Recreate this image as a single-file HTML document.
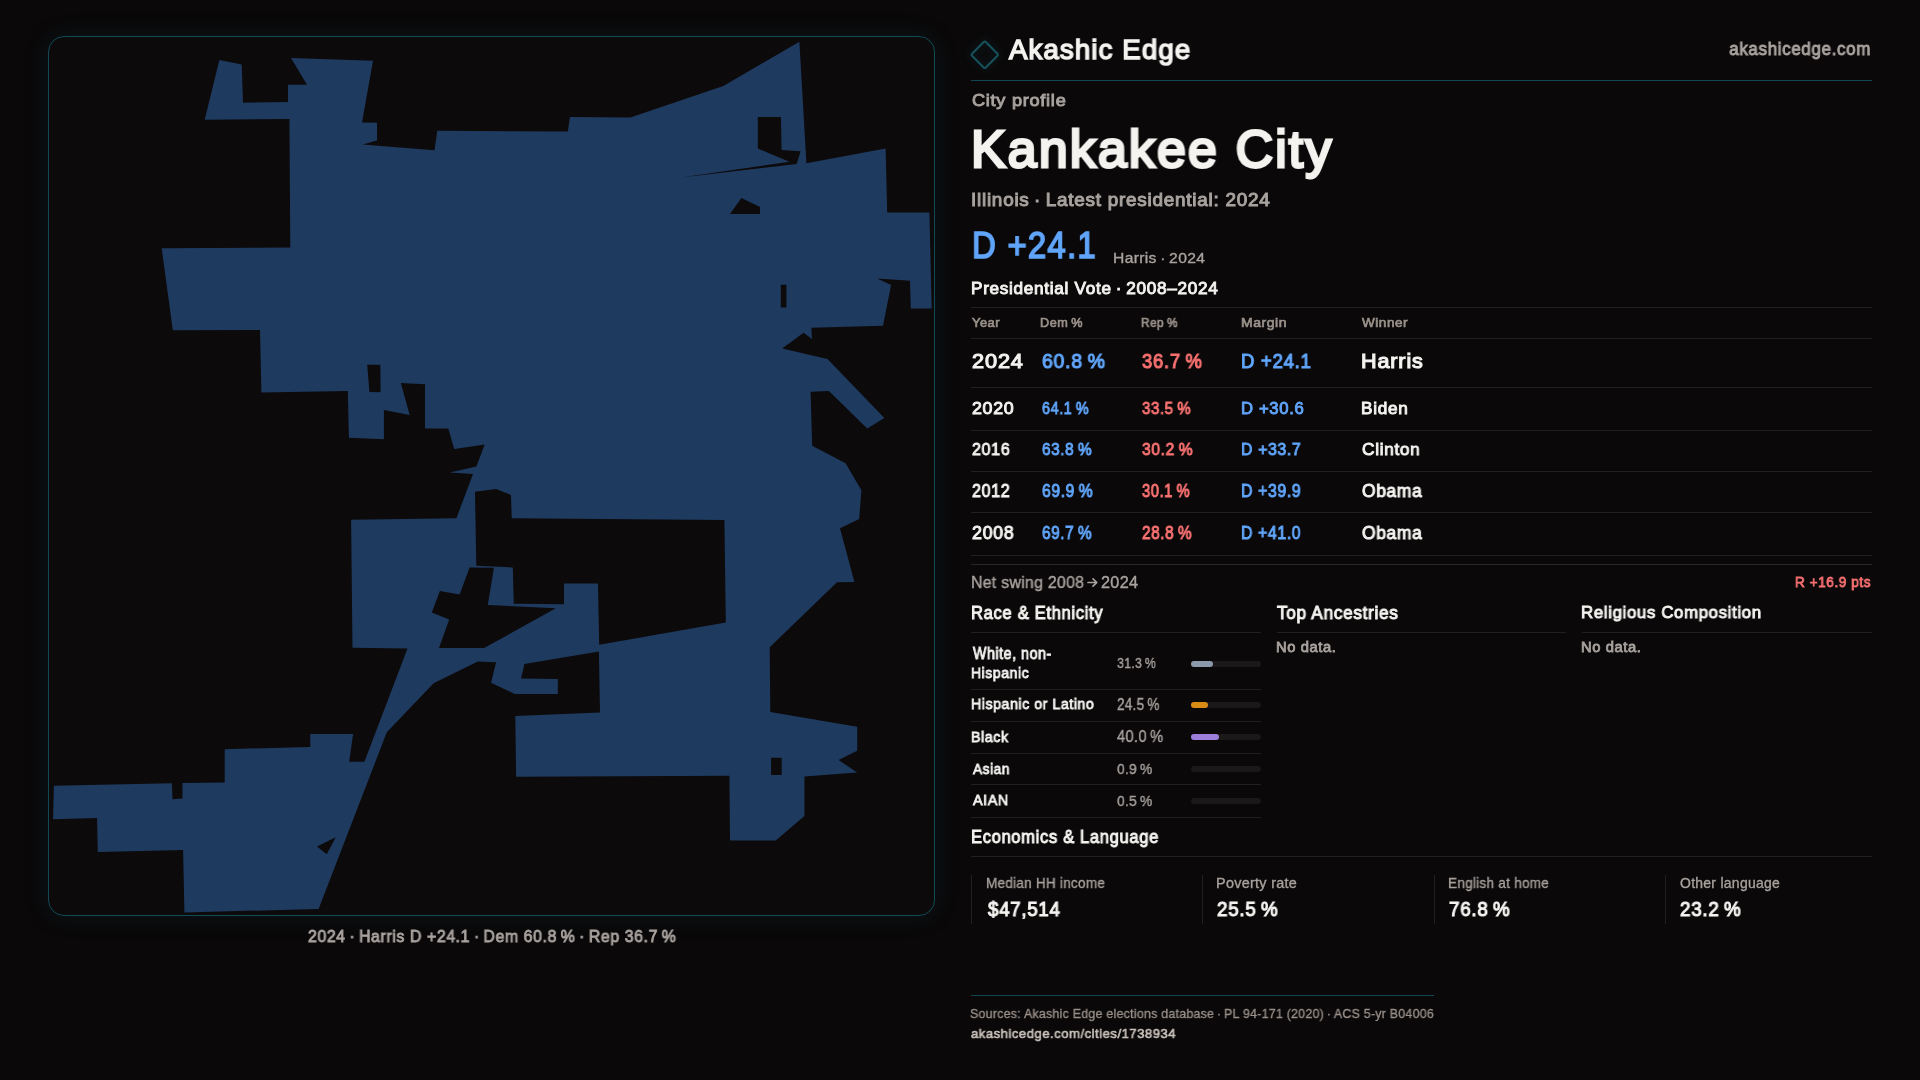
<!DOCTYPE html>
<html><head><meta charset="utf-8">
<style>
*{margin:0;padding:0;box-sizing:border-box}
html,body{width:1920px;height:1080px;overflow:hidden;background:#0a0809;font-family:"Liberation Sans",sans-serif;}
.t{position:absolute;white-space:nowrap;line-height:1;transform-origin:0 0;font-weight:400;will-change:transform;}
#frame{position:absolute;left:48px;top:36px;width:887px;height:880px;border:1px solid #114a55;border-radius:16px;background:#0c0a0b;box-shadow:0 0 24px rgba(20,90,105,0.18);}
#map{position:absolute;left:0;top:0;}
.hr{position:absolute;height:1px;background:#221f1e;}
.vr{position:absolute;width:1px;background:#221f1e;}
.trk{position:absolute;left:1191px;width:70px;height:6px;border-radius:3px;background:#1a1818;}
.fil{position:absolute;left:0;top:0;height:6px;border-radius:3px;}
</style></head><body>
<div id="frame"></div>
<svg id="map" width="1920" height="1080" viewBox="0 0 1920 1080"><path fill="#1f3a5f" fill-rule="evenodd" d="M219.4 60 L241.7 64.4 L243 102.8 L288 102 L288 84.7 L307 84.7 L291 58 L373 60.8 L362 122.5 L377 122.8 L377 140.6 L362.5 144.4 L434.5 150.3 L437.3 130.8 L567.8 131.4 L570 117 L630.3 117.5 L723.3 86.1 L799.4 41.7 L806.4 163.3 L885.6 148.6 L887.2 212.5 L929.4 212.5 L931.7 308.6 L910.8 308.6 L910 280.8 L877.2 278.6 L891.1 285 L883 325.7 L811.4 327.8 L812 338.9 L803.6 332.8 L782.2 348.6 L827.5 358.9 L884.4 418 L867.2 428.6 L828.9 391.1 L810.6 391.7 L812.2 445.8 L845.6 463.3 L861.4 490.3 L859.2 518.9 L840 528.3 L854.4 582 L837 582.3 L769.7 647.2 L770.3 711.9 L857.2 726.7 L857.2 750.8 L838.6 760 L857.2 772.5 L804.4 776.4 L804.4 816.1 L775.8 840.6 L730 840.6 L729.4 775.8 L516.1 776.7 L515.3 716.1 L600 712.5 L598.9 651.4 L524.4 663.9 L521.1 678.6 L557.8 678.9 L557.8 693.9 L514.7 693.9 L491.1 682.8 L496.1 662.2 L477.8 661.4 L433.6 683.3 L386.8 732.3 L318.6 908.9 L184.4 912.5 L183.1 850 L97.8 851.9 L97 818.1 L53.1 819.2 L53.9 785.8 L171.9 783.3 L172.5 799.2 L182.5 798.6 L182.5 783.1 L224.7 782.5 L224.7 749.2 L310.3 746.9 L310.3 733.9 L353.1 733.9 L349.2 761.7 L364.4 761.7 L407.5 648.6 L352.5 647.8 L351.1 519.7 L456.4 518.3 L473 473.9 L449.7 472.5 L476.4 466.4 L484.7 444.4 L454.2 448.9 L448.3 428.6 L425 428.6 L425 384.2 L400.8 383 L409.7 415 L383.9 410 L383.9 439.2 L348.9 437.8 L347.8 391.1 L261.4 392.5 L260 330 L172.8 330.3 L161.7 248.3 L290.3 247.5 L289.4 118.9 L204.7 119.7 Z M757.8 117.1 L780.9 117.1 L781.6 150 L800.6 151.2 L796.7 163.9 L681 177.5 L789.4 161.8 L757.8 148.6 Z M741.4 198 L760 207 L760 213.9 L730 213.9 Z M780.8 284.7 L786.4 284.7 L786.4 307.5 L780.8 307.5 Z M367.2 364.7 L380.3 364.7 L380.6 392.2 L369.4 391.9 Z M475 491.7 L496 489 L511 495 L511.7 518.3 L724.4 520 L725.8 622.5 L599.2 644.7 L598 583.6 L564 583.6 L564 604.2 L513.75 603.75 L512.8 567.4 L476.3 565.7 Z M469.6 567.4 L493.9 567.8 L487.8 604.9 L555.8 608.3 L484.2 647.9 L439 647.9 L449.2 619.4 L431.8 612.5 L439.9 591 L459.6 594.4 Z M771.1 757.8 L781.7 757.8 L781.7 775 L771.1 775 Z M317 846.4 L335.8 837.2 L326.7 854.2 Z"/></svg>
<svg style="position:absolute;left:965px;top:35px;filter:drop-shadow(0 0 5px rgba(22,95,110,0.45))" width="40" height="40" viewBox="0 0 40 40"><rect x="10" y="10" width="19.5" height="19.5" rx="1.5" transform="rotate(45 19.75 19.75)" fill="none" stroke="#17525c" stroke-width="2"/></svg>
<div class="hr" style="left:971px;top:80px;width:901px;background:#0f4652"></div>
<div class="hr" style="left:971px;top:307px;width:901px"></div>
<div class="hr" style="left:971px;top:338px;width:901px"></div>
<div class="hr" style="left:971px;top:387px;width:901px"></div>
<div class="hr" style="left:971px;top:430px;width:901px"></div>
<div class="hr" style="left:971px;top:471px;width:901px"></div>
<div class="hr" style="left:971px;top:512px;width:901px"></div>
<div class="hr" style="left:971px;top:555px;width:901px"></div>
<div class="hr" style="left:971px;top:564px;width:901px;background:#2a2625"></div>
<div class="hr" style="left:971px;top:632px;width:290px"></div>
<div class="hr" style="left:1277px;top:632px;width:289px"></div>
<div class="hr" style="left:1582px;top:632px;width:290px"></div>
<div class="hr" style="left:971px;top:689px;width:290px"></div>
<div class="hr" style="left:971px;top:721px;width:290px"></div>
<div class="hr" style="left:971px;top:753px;width:290px"></div>
<div class="hr" style="left:971px;top:784px;width:290px"></div>
<div class="hr" style="left:971px;top:817px;width:290px"></div>
<div class="hr" style="left:971px;top:856px;width:901px"></div>
<div class="trk" style="top:661px"><div class="fil" style="width:22px;background:#8a9aab"></div></div>
<div class="trk" style="top:702px"><div class="fil" style="width:17px;background:#d98c14"></div></div>
<div class="trk" style="top:734px"><div class="fil" style="width:28px;background:#9a7ed9"></div></div>
<div class="trk" style="top:766px"></div>
<div class="trk" style="top:798px"></div>
<div class="vr" style="left:971px;top:875px;height:49px"></div>
<div class="vr" style="left:1202px;top:875px;height:49px"></div>
<div class="vr" style="left:1434px;top:875px;height:49px"></div>
<div class="vr" style="left:1665px;top:875px;height:49px"></div>
<div class="hr" style="left:971px;top:995px;width:463px;background:#0f4652"></div>
<svg style="position:absolute;left:1087px;top:577px" width="12" height="11" viewBox="0 0 12 11"><path d="M1 5.5 H9.5 M6 1.8 L9.8 5.5 L6 9.2" fill="none" stroke="#a8a29e" stroke-width="1.7" stroke-linecap="round" stroke-linejoin="round"/></svg>
<div class="t" style="left:1009.40px;transform:scaleX(0.9973);top:35.83px;font-size:27.71px;color:#f5f3f0;-webkit-text-stroke:1.52px #f5f3f0;letter-spacing:1.11px;">Akashic Edge</div>
<div class="t" style="left:1871.00px;transform:scaleX(0.9448) translateX(-100%);top:41.08px;font-size:17.90px;color:#a8a29e;-webkit-text-stroke:0.98px #a8a29e;letter-spacing:0.72px;">akashicedge.com</div>
<div class="t" style="left:971.80px;transform:scaleX(1.0972);top:93.05px;font-size:16.56px;color:#a8a29e;-webkit-text-stroke:0.91px #a8a29e;letter-spacing:0.66px;">City profile</div>
<div class="t" style="left:971.40px;transform:scaleX(0.9972);top:122.70px;font-size:52.15px;color:#f5f3f0;-webkit-text-stroke:2.87px #f5f3f0;letter-spacing:2.09px;">Kankakee City</div>
<div class="t" style="left:971.20px;transform:scaleX(1.0664);top:192.33px;font-size:17.73px;color:#a8a29e;-webkit-text-stroke:0.98px #a8a29e;letter-spacing:0.71px;">Illinois · Latest presidential: 2024</div>
<div class="t" style="left:971.60px;transform:scaleX(0.8765);top:226.91px;font-size:37.45px;color:#60a5fa;-webkit-text-stroke:1.69px #60a5fa;letter-spacing:1.50px;">D +24.1</div>
<div class="t" style="left:1112.60px;transform:scaleX(1.0619);top:250.84px;font-size:14.76px;color:#a8a29e;-webkit-text-stroke:0.37px #a8a29e;letter-spacing:0.30px;">Harris · 2024</div>
<div class="t" style="left:971.00px;transform:scaleX(1.0633);top:280.29px;font-size:16.17px;color:#f5f3f0;-webkit-text-stroke:0.89px #f5f3f0;letter-spacing:0.65px;">Presidential Vote · 2008–2024</div>
<div class="t" style="left:972.00px;transform:scaleX(1.0380);top:316.99px;font-size:12.39px;color:#9a918a;-webkit-text-stroke:0.68px #9a918a;letter-spacing:0.50px;">Year</div>
<div class="t" style="left:1040.00px;transform:scaleX(1.0217);top:316.99px;font-size:12.39px;color:#9a918a;-webkit-text-stroke:0.68px #9a918a;letter-spacing:0.50px;">Dem %</div>
<div class="t" style="left:1141.00px;transform:scaleX(0.9553);top:316.99px;font-size:12.39px;color:#9a918a;-webkit-text-stroke:0.68px #9a918a;letter-spacing:0.50px;">Rep %</div>
<div class="t" style="left:1241.00px;transform:scaleX(1.1299);top:316.99px;font-size:12.39px;color:#9a918a;-webkit-text-stroke:0.68px #9a918a;letter-spacing:0.50px;">Margin</div>
<div class="t" style="left:1362.00px;transform:scaleX(1.0921);top:316.99px;font-size:12.39px;color:#9a918a;-webkit-text-stroke:0.68px #9a918a;letter-spacing:0.50px;">Winner</div>
<div class="t" style="left:972.00px;transform:scaleX(1.0749);top:351.12px;font-size:20.21px;color:#f5f3f0;-webkit-text-stroke:1.11px #f5f3f0;letter-spacing:0.81px;">2024</div>
<div class="t" style="left:1042.00px;transform:scaleX(0.9610);top:351.12px;font-size:20.21px;color:#60a5fa;-webkit-text-stroke:1.11px #60a5fa;letter-spacing:0.81px;">60.8 %</div>
<div class="t" style="left:1142.00px;transform:scaleX(0.9145);top:351.12px;font-size:20.21px;color:#f87171;-webkit-text-stroke:1.11px #f87171;letter-spacing:0.81px;">36.7 %</div>
<div class="t" style="left:1241.00px;transform:scaleX(0.9161);top:351.12px;font-size:20.21px;color:#60a5fa;-webkit-text-stroke:1.11px #60a5fa;letter-spacing:0.81px;">D +24.1</div>
<div class="t" style="left:1361.00px;transform:scaleX(1.0687);top:351.12px;font-size:20.21px;color:#f5f3f0;-webkit-text-stroke:1.11px #f5f3f0;letter-spacing:0.81px;">Harris</div>
<div class="t" style="left:972.00px;transform:scaleX(1.0932);top:400.28px;font-size:16.30px;color:#f5f3f0;-webkit-text-stroke:0.90px #f5f3f0;letter-spacing:0.65px;">2020</div>
<div class="t" style="left:1042.00px;transform:scaleX(0.8852);top:400.28px;font-size:16.30px;color:#60a5fa;-webkit-text-stroke:0.90px #60a5fa;letter-spacing:0.65px;">64.1 %</div>
<div class="t" style="left:1142.00px;transform:scaleX(0.9236);top:400.28px;font-size:16.30px;color:#f87171;-webkit-text-stroke:0.90px #f87171;letter-spacing:0.65px;">33.5 %</div>
<div class="t" style="left:1241.00px;transform:scaleX(1.0210);top:400.28px;font-size:16.30px;color:#60a5fa;-webkit-text-stroke:0.90px #60a5fa;letter-spacing:0.65px;">D +30.6</div>
<div class="t" style="left:1361.00px;transform:scaleX(1.0552);top:400.28px;font-size:16.30px;color:#f5f3f0;-webkit-text-stroke:0.90px #f5f3f0;letter-spacing:0.65px;">Biden</div>
<div class="t" style="left:972.00px;transform:scaleX(0.9302);top:440.68px;font-size:17.28px;color:#f5f3f0;-webkit-text-stroke:0.95px #f5f3f0;letter-spacing:0.69px;">2016</div>
<div class="t" style="left:1042.00px;transform:scaleX(0.8884);top:440.68px;font-size:17.28px;color:#60a5fa;-webkit-text-stroke:0.95px #60a5fa;letter-spacing:0.69px;">63.8 %</div>
<div class="t" style="left:1142.00px;transform:scaleX(0.9066);top:440.68px;font-size:17.28px;color:#f87171;-webkit-text-stroke:0.95px #f87171;letter-spacing:0.69px;">30.2 %</div>
<div class="t" style="left:1241.00px;transform:scaleX(0.9160);top:440.68px;font-size:17.28px;color:#60a5fa;-webkit-text-stroke:0.95px #60a5fa;letter-spacing:0.69px;">D +33.7</div>
<div class="t" style="left:1362.00px;transform:scaleX(0.9966);top:440.68px;font-size:17.28px;color:#f5f3f0;-webkit-text-stroke:0.95px #f5f3f0;letter-spacing:0.69px;">Clinton</div>
<div class="t" style="left:972.00px;transform:scaleX(0.9129);top:482.64px;font-size:17.60px;color:#f5f3f0;-webkit-text-stroke:0.97px #f5f3f0;letter-spacing:0.70px;">2012</div>
<div class="t" style="left:1042.00px;transform:scaleX(0.8898);top:482.64px;font-size:17.60px;color:#60a5fa;-webkit-text-stroke:0.97px #60a5fa;letter-spacing:0.70px;">69.9 %</div>
<div class="t" style="left:1142.00px;transform:scaleX(0.8368);top:482.64px;font-size:17.60px;color:#f87171;-webkit-text-stroke:0.97px #f87171;letter-spacing:0.70px;">30.1 %</div>
<div class="t" style="left:1241.00px;transform:scaleX(0.8994);top:482.64px;font-size:17.60px;color:#60a5fa;-webkit-text-stroke:0.97px #60a5fa;letter-spacing:0.70px;">D +39.9</div>
<div class="t" style="left:1362.00px;transform:scaleX(0.9873);top:482.64px;font-size:17.60px;color:#f5f3f0;-webkit-text-stroke:0.97px #f5f3f0;letter-spacing:0.70px;">Obama</div>
<div class="t" style="left:972.00px;transform:scaleX(0.9929);top:525.16px;font-size:17.93px;color:#f5f3f0;-webkit-text-stroke:0.99px #f5f3f0;letter-spacing:0.72px;">2008</div>
<div class="t" style="left:1042.00px;transform:scaleX(0.8555);top:525.16px;font-size:17.93px;color:#60a5fa;-webkit-text-stroke:0.99px #60a5fa;letter-spacing:0.72px;">69.7 %</div>
<div class="t" style="left:1142.00px;transform:scaleX(0.8553);top:525.16px;font-size:17.93px;color:#f87171;-webkit-text-stroke:0.99px #f87171;letter-spacing:0.72px;">28.8 %</div>
<div class="t" style="left:1241.00px;transform:scaleX(0.8823);top:525.16px;font-size:17.93px;color:#60a5fa;-webkit-text-stroke:0.99px #60a5fa;letter-spacing:0.72px;">D +41.0</div>
<div class="t" style="left:1362.00px;transform:scaleX(0.9688);top:525.16px;font-size:17.93px;color:#f5f3f0;-webkit-text-stroke:0.99px #f5f3f0;letter-spacing:0.72px;">Obama</div>
<div class="t" style="left:971.00px;transform:scaleX(0.9759);top:574.10px;font-size:16.21px;color:#a8a29e;-webkit-text-stroke:0.41px #a8a29e;letter-spacing:0.32px;">Net swing 2008</div>
<div class="t" style="left:1101.00px;transform:scaleX(1.0010);top:574.10px;font-size:16.21px;color:#a8a29e;-webkit-text-stroke:0.41px #a8a29e;letter-spacing:0.32px;">2024</div>
<div class="t" style="left:1871.40px;transform:scaleX(0.8938) translateX(-100%);top:574.49px;font-size:15.25px;color:#f87171;-webkit-text-stroke:0.84px #f87171;letter-spacing:0.61px;">R +16.9 pts</div>
<div class="t" style="left:970.60px;transform:scaleX(0.9165);top:604.19px;font-size:18.12px;color:#f5f3f0;-webkit-text-stroke:1.00px #f5f3f0;letter-spacing:0.72px;">Race & Ethnicity</div>
<div class="t" style="left:1277.40px;transform:scaleX(0.9510);top:604.19px;font-size:18.12px;color:#f5f3f0;-webkit-text-stroke:1.00px #f5f3f0;letter-spacing:0.72px;">Top Ancestries</div>
<div class="t" style="left:1580.80px;transform:scaleX(0.9888);top:604.91px;font-size:16.95px;color:#f5f3f0;-webkit-text-stroke:0.93px #f5f3f0;letter-spacing:0.68px;">Religious Composition</div>
<div class="t" style="left:1276.40px;transform:scaleX(1.0179);top:640.37px;font-size:14.47px;color:#a8a29e;-webkit-text-stroke:0.80px #a8a29e;letter-spacing:0.58px;">No data.</div>
<div class="t" style="left:1580.80px;transform:scaleX(1.0179);top:640.37px;font-size:14.47px;color:#a8a29e;-webkit-text-stroke:0.80px #a8a29e;letter-spacing:0.58px;">No data.</div>
<div class="t" style="left:972.60px;transform:scaleX(0.9064);top:646.15px;font-size:15.65px;color:#f5f3f0;-webkit-text-stroke:0.86px #f5f3f0;letter-spacing:0.63px;">White, non-</div>
<div class="t" style="left:970.60px;transform:scaleX(0.9172);top:665.19px;font-size:15.25px;color:#f5f3f0;-webkit-text-stroke:0.84px #f5f3f0;letter-spacing:0.61px;">Hispanic</div>
<div class="t" style="left:1116.80px;transform:scaleX(0.8003);top:654.85px;font-size:15.45px;color:#a8a29e;-webkit-text-stroke:0.39px #a8a29e;letter-spacing:0.31px;">31.3 %</div>
<div class="t" style="left:970.60px;transform:scaleX(0.9519);top:697.33px;font-size:14.86px;color:#f5f3f0;-webkit-text-stroke:0.82px #f5f3f0;letter-spacing:0.59px;">Hispanic or Latino</div>
<div class="t" style="left:1116.80px;transform:scaleX(0.8613);top:696.82px;font-size:15.72px;color:#a8a29e;-webkit-text-stroke:0.39px #a8a29e;letter-spacing:0.31px;">24.5 %</div>
<div class="t" style="left:970.60px;transform:scaleX(0.9358);top:728.99px;font-size:15.25px;color:#f5f3f0;-webkit-text-stroke:0.84px #f5f3f0;letter-spacing:0.61px;">Black</div>
<div class="t" style="left:1116.80px;transform:scaleX(0.9117);top:728.46px;font-size:16.14px;color:#a8a29e;-webkit-text-stroke:0.40px #a8a29e;letter-spacing:0.32px;">40.0 %</div>
<div class="t" style="left:972.60px;transform:scaleX(0.9381);top:761.66px;font-size:14.60px;color:#f5f3f0;-webkit-text-stroke:0.80px #f5f3f0;letter-spacing:0.58px;">Asian</div>
<div class="t" style="left:1116.80px;transform:scaleX(0.8918);top:761.15px;font-size:15.45px;color:#a8a29e;-webkit-text-stroke:0.39px #a8a29e;letter-spacing:0.31px;">0.9 %</div>
<div class="t" style="left:972.60px;transform:scaleX(0.9837);top:793.36px;font-size:14.60px;color:#f5f3f0;-webkit-text-stroke:0.80px #f5f3f0;letter-spacing:0.58px;">AIAN</div>
<div class="t" style="left:1116.80px;transform:scaleX(0.8918);top:792.85px;font-size:15.45px;color:#a8a29e;-webkit-text-stroke:0.39px #a8a29e;letter-spacing:0.31px;">0.5 %</div>
<div class="t" style="left:970.60px;transform:scaleX(0.9195);top:828.20px;font-size:17.99px;color:#f5f3f0;-webkit-text-stroke:0.99px #f5f3f0;letter-spacing:0.72px;">Economics & Language</div>
<div class="t" style="left:986.00px;transform:scaleX(0.9787);top:876.97px;font-size:13.79px;color:#a8a29e;-webkit-text-stroke:0.34px #a8a29e;letter-spacing:0.28px;">Median HH income</div>
<div class="t" style="left:1216.00px;transform:scaleX(1.0449);top:876.97px;font-size:13.79px;color:#a8a29e;-webkit-text-stroke:0.34px #a8a29e;letter-spacing:0.28px;">Poverty rate</div>
<div class="t" style="left:1448.00px;transform:scaleX(0.9811);top:876.97px;font-size:13.79px;color:#a8a29e;-webkit-text-stroke:0.34px #a8a29e;letter-spacing:0.28px;">English at home</div>
<div class="t" style="left:1680.00px;transform:scaleX(1.0119);top:876.97px;font-size:13.79px;color:#a8a29e;-webkit-text-stroke:0.34px #a8a29e;letter-spacing:0.28px;">Other language</div>
<div class="t" style="left:988.00px;transform:scaleX(0.9534);top:899.94px;font-size:19.56px;color:#f5f3f0;-webkit-text-stroke:1.08px #f5f3f0;letter-spacing:0.78px;">$47,514</div>
<div class="t" style="left:1217.00px;transform:scaleX(0.9606);top:899.94px;font-size:19.56px;color:#f5f3f0;-webkit-text-stroke:1.08px #f5f3f0;letter-spacing:0.78px;">25.5 %</div>
<div class="t" style="left:1449.00px;transform:scaleX(0.9606);top:899.94px;font-size:19.56px;color:#f5f3f0;-webkit-text-stroke:1.08px #f5f3f0;letter-spacing:0.78px;">76.8 %</div>
<div class="t" style="left:1680.00px;transform:scaleX(0.9609);top:899.94px;font-size:19.56px;color:#f5f3f0;-webkit-text-stroke:1.08px #f5f3f0;letter-spacing:0.78px;">23.2 %</div>
<div class="t" style="left:970.00px;transform:scaleX(0.9469);top:1007.01px;font-size:13.10px;color:#9a918a;-webkit-text-stroke:0.33px #9a918a;letter-spacing:0.26px;">Sources: Akashic Edge elections database · PL 94-171 (2020) · ACS 5-yr B04006</div>
<div class="t" style="left:971.00px;transform:scaleX(0.9607);top:1027.40px;font-size:13.60px;color:#c9c2bb;-webkit-text-stroke:0.61px #c9c2bb;letter-spacing:0.54px;">akashicedge.com/cities/1738934</div>
<div class="t" style="left:307.80px;transform:scaleX(0.9692);top:928.28px;font-size:16.30px;color:#a8a29e;-webkit-text-stroke:0.90px #a8a29e;letter-spacing:0.65px;">2024 · Harris D +24.1 · Dem 60.8 % · Rep 36.7 %</div>
</body></html>
